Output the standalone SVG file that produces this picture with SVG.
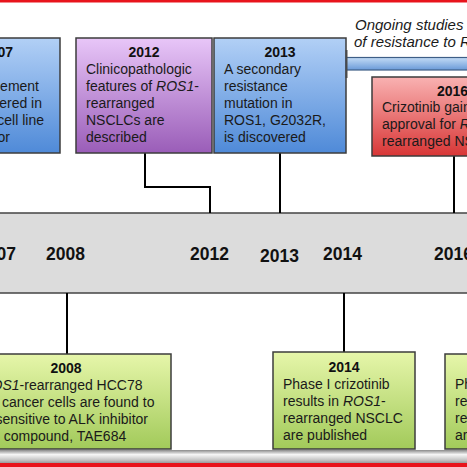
<svg xmlns="http://www.w3.org/2000/svg" width="467" height="467" viewBox="0 0 467 467">
<defs>
<linearGradient id="gBlue" x1="0" y1="0" x2="0" y2="1"><stop offset="0" stop-color="#b2d0f6"/><stop offset="1" stop-color="#4f8ad8"/></linearGradient>
<linearGradient id="gPurple" x1="0" y1="0" x2="0" y2="1"><stop offset="0" stop-color="#e8c6f8"/><stop offset="1" stop-color="#9a5db8"/></linearGradient>
<linearGradient id="gRed" x1="0" y1="0" x2="0" y2="1"><stop offset="0" stop-color="#f9b2b2"/><stop offset="1" stop-color="#d83636"/></linearGradient>
<linearGradient id="gGreen" x1="0" y1="0" x2="0" y2="1"><stop offset="0" stop-color="#e6f6aa"/><stop offset="1" stop-color="#a2ca5a"/></linearGradient>
<linearGradient id="gBar" x1="0" y1="0" x2="0" y2="1"><stop offset="0" stop-color="#c4dcf6"/><stop offset="1" stop-color="#6a9ad8"/></linearGradient>
<linearGradient id="gFoot" x1="0" y1="0" x2="0" y2="1"><stop offset="0" stop-color="#8a8a8a"/><stop offset="0.35" stop-color="#f6f6f6"/><stop offset="0.8" stop-color="#c0c0c0"/><stop offset="1" stop-color="#9a9a9a"/></linearGradient>
</defs>
<style>
.box{stroke:#3c3c3c;stroke-width:1.5}
.t{font-family:"Liberation Sans",Arial,sans-serif;font-size:14px;fill:#1a1a1a}
.yr{font-family:"Liberation Sans",Arial,sans-serif;font-size:14px;font-weight:bold;fill:#111}
.ax{font-family:"Liberation Sans",Arial,sans-serif;font-size:17.5px;font-weight:bold;fill:#111}
.it{font-style:italic}
.c{fill:none;stroke:#000;stroke-width:2}
</style>
<rect x="0" y="0" width="467" height="467" fill="#ffffff"/>
<rect x="0" y="0" width="467" height="2.5" fill="#e8141c"/>

<g id="timeline">
<rect x="-2" y="213" width="471" height="80" fill="#dcdcdc" stroke="#444" stroke-width="1.5"/>
<text class="ax" x="16" y="260" text-anchor="end">2007</text>
<text class="ax" x="46" y="260">2008</text>
<text class="ax" x="190" y="260">2012</text>
<text class="ax" x="260" y="262">2013</text>
<text class="ax" x="323" y="260">2014</text>
<text class="ax" x="434" y="260">2016</text>
</g>

<g id="connectors">
<polyline class="c" points="145,153 145,187 210,187 210,213"/>
<line class="c" x1="280" y1="153" x2="280" y2="213"/>
<line class="c" x1="454" y1="156" x2="454" y2="213"/>
<line class="c" x1="67" y1="293" x2="67" y2="354"/>
<line class="c" x1="344" y1="293" x2="344" y2="352"/>
</g>

<g id="node-2007">
<rect class="box" x="-80" y="38" width="140" height="115" fill="url(#gBlue)"/>
<text class="yr" x="13" y="57" text-anchor="end">2007</text>
<text class="t" x="39" y="91" text-anchor="end">rearrangement</text>
<text class="t" x="42" y="108" text-anchor="end">discovered in</text>
<text class="t" x="44" y="125" text-anchor="end">NSCLC cell line</text>
<text class="t" x="10" y="142" text-anchor="end">and tumor</text>
</g>

<g id="node-2012">
<rect class="box" x="76" y="38" width="136" height="115" fill="url(#gPurple)"/>
<text class="yr" x="144" y="57" text-anchor="middle">2012</text>
<text class="t" x="86" y="74">Clinicopathologic</text>
<text class="t" x="86" y="91">features of <tspan class="it">ROS1</tspan>-</text>
<text class="t" x="86" y="108">rearranged</text>
<text class="t" x="86" y="125">NSCLCs are</text>
<text class="t" x="86" y="142">described</text>
</g>

<g id="node-2013">
<rect class="box" x="214" y="38" width="132" height="115" fill="url(#gBlue)"/>
<text class="yr" x="280" y="57" text-anchor="middle">2013</text>
<text class="t" x="224" y="74">A secondary</text>
<text class="t" x="224" y="91">resistance</text>
<text class="t" x="224" y="108">mutation in</text>
<text class="t" x="224" y="125">ROS1, G2032R,</text>
<text class="t" x="224" y="142">is discovered</text>
</g>

<g id="node-ongoing">
<rect x="346" y="57.5" width="125" height="12.5" fill="url(#gBar)" stroke="#3e5e86" stroke-width="1.2"/>
<line x1="346.5" y1="50" x2="346.5" y2="78" stroke="#4a4a4a" stroke-width="2"/>
<text class="t it" style="font-size:15px" x="355" y="30">Ongoing studies on mechanisms</text>
<text class="t it" style="font-size:15px" x="354" y="47">of resistance to ROS1 inhibitors</text>
</g>

<g id="node-2016">
<rect class="box" x="372" y="77" width="164" height="79" fill="url(#gRed)"/>
<text class="yr" x="437" y="96">2016</text>
<text class="t" x="382" y="112">Crizotinib gains FDA</text>
<text class="t" x="382" y="129">approval for <tspan class="it">ROS1</tspan>-</text>
<text class="t" x="382" y="146">rearranged NSCLC</text>
</g>

<g id="node-2008">
<rect class="box" x="-40" y="354" width="211" height="95" fill="url(#gGreen)"/>
<text class="yr" x="66" y="373" text-anchor="middle">2008</text>
<text class="t" x="62" y="390" text-anchor="middle"><tspan class="it">ROS1</tspan>-rearranged HCC78</text>
<text class="t" x="63" y="407" text-anchor="middle">lung cancer cells are found to</text>
<text class="t" x="62" y="424" text-anchor="middle">be sensitive to ALK inhibitor</text>
<text class="t" x="65" y="441" text-anchor="middle">compound, TAE684</text>
</g>

<g id="node-2014">
<rect class="box" x="273" y="352" width="142" height="97" fill="url(#gGreen)"/>
<text class="yr" x="344" y="372" text-anchor="middle">2014</text>
<text class="t" x="283" y="389">Phase I crizotinib</text>
<text class="t" x="283" y="406">results in <tspan class="it">ROS1</tspan>-</text>
<text class="t" x="283" y="423">rearranged NSCLC</text>
<text class="t" x="283" y="440">are published</text>
</g>

<g id="node-2017">
<rect class="box" x="445" y="354" width="150" height="95" fill="url(#gGreen)"/>
<text class="t" x="455" y="389">Phase II</text>
<text class="t" x="455" y="406">results in</text>
<text class="t" x="455" y="423">rearranged</text>
<text class="t" x="455" y="440">are published</text>
</g>

<rect x="0" y="450" width="467" height="13" fill="url(#gFoot)"/>
<rect x="0" y="463" width="467" height="4" fill="#e8141c"/>
</svg>
